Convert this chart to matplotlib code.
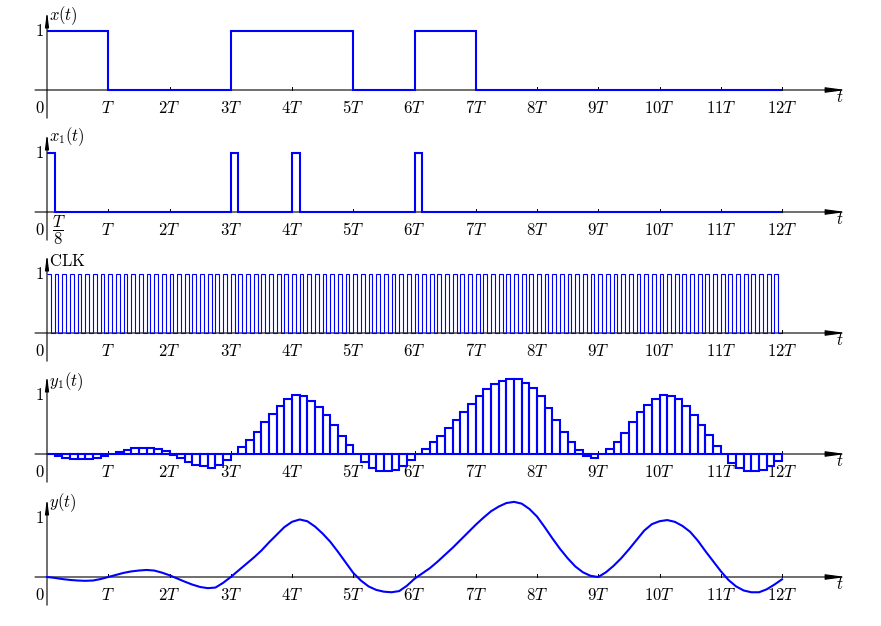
import matplotlib
matplotlib.use("Agg")
import matplotlib.pyplot as plt
import numpy as np

plt.rcParams['mathtext.fontset'] = 'cm'
plt.rcParams['font.family'] = ['DejaVu Serif']

# ---------------- data ----------------
# x(t): piecewise constant, edges in units of T
x_edges = [0, 1, 3, 5, 6, 7, 12]
x_levels = [1, 0, 1, 0, 1, 0]

# x1(t): pulses of width T/8
x1_edges = [0, 0.125, 3, 3.125, 4, 4.125, 6, 6.125, 12]
x1_levels = [1, 0, 1, 0, 1, 0, 1, 0]

# CLK: period T/8, 96 cycles, levels per half period
clk_half_period = 1 / 16
clk_levels = [1, 0] * 96

# y1(t): sample-and-hold values, one per T/8
y1_step = 1 / 8
y1_values = [
    0.0, -0.04, -0.06, -0.09, -0.09, -0.09, -0.07, -0.03,
    0.0, 0.04, 0.07, 0.11, 0.11, 0.11, 0.09, 0.05,
    -0.01, -0.07, -0.14, -0.19, -0.21, -0.23, -0.19, -0.11,
    0.0, 0.12, 0.23, 0.38, 0.55, 0.68, 0.82, 0.93,
    1.0, 0.98, 0.91, 0.80, 0.67, 0.49, 0.31, 0.15,
    0.0, -0.13, -0.23, -0.29, -0.29, -0.27, -0.2, -0.11,
    0.0, 0.08, 0.2, 0.3, 0.44, 0.58, 0.72, 0.85,
    0.99, 1.1, 1.19, 1.25, 1.28, 1.28, 1.21, 1.12,
    0.99, 0.78, 0.58, 0.38, 0.2, 0.06, -0.03, -0.06,
    0.0, 0.09, 0.2, 0.36, 0.55, 0.71, 0.84, 0.93,
    1.0, 0.98, 0.93, 0.82, 0.66, 0.49, 0.32, 0.14,
    0.0, -0.16, -0.24, -0.29, -0.29, -0.28, -0.2, -0.12,
]

# y(t): smooth output, read every T/8
y_step = 1 / 8
y_values = [
    0.0, -0.015, -0.035, -0.05, -0.06, -0.065, -0.06, -0.035,
    0.0, 0.035, 0.07, 0.095, 0.11, 0.12, 0.11, 0.075,
    0.03, -0.025, -0.08, -0.13, -0.17, -0.19, -0.18, -0.1,
    0.0, 0.11, 0.22, 0.33, 0.45, 0.59, 0.72, 0.85,
    0.94, 0.98, 0.95, 0.86, 0.74, 0.6, 0.43, 0.25,
    0.07, -0.06, -0.16, -0.22, -0.25, -0.26, -0.24, -0.15,
    -0.03, 0.06, 0.15, 0.26, 0.38, 0.5, 0.63, 0.76,
    0.89, 1.01, 1.12, 1.2, 1.26, 1.28, 1.25, 1.16,
    1.03, 0.85, 0.66, 0.48, 0.32, 0.18, 0.08, 0.02,
    0.0, 0.08, 0.19, 0.32, 0.47, 0.63, 0.79, 0.9,
    0.95, 0.97, 0.94, 0.87, 0.77, 0.62, 0.44, 0.27,
    0.1, -0.05, -0.16, -0.23, -0.26, -0.26, -0.21, -0.13,
    -0.04,
]

tick_labels = ['$T$', '$2T$', '$3T$', '$4T$', '$5T$', '$6T$',
               '$7T$', '$8T$', '$9T$', '$10T$', '$11T$', '$12T$']
panel_labels = ['$x(t)$', '$x_1(t)$', r'$\mathrm{CLK}$', '$y_1(t)$', '$y(t)$']

# ---------------- layout ----------------
W, H = 881, 626
X0, PXT = 47, 61.25      # pixel of t=0, pixels per T
PXU = 58.7               # pixels per unit amplitude
zeros_px = [90, 212, 333, 454, 577]
label_y = [1.26, 1.28, 1.21, 1.24, 1.26]
BLUE = '#0000ff'
FS = 12

fig = plt.figure(figsize=(W / 100, H / 100), dpi=100)

axes = []
for i, Z in enumerate(zeros_px):
    top, bot = Z - 86, Z + 35
    ax = fig.add_axes([0, 1 - bot / H, 1, (bot - top) / H])
    ax.set_xlim(-X0 / PXT, (W - X0) / PXT)
    ax.set_ylim(-35 / PXU, 86 / PXU)
    ax.axis('off')
    axes.append(ax)

    # horizontal axis with arrow
    ax.annotate('', xy=((846 - X0) / PXT, 0), xytext=((35 - X0) / PXT, 0),
                arrowprops=dict(arrowstyle='-|>,head_length=1.5,head_width=0.2',
                                color='black', lw=0.8, mutation_scale=8,
                                shrinkA=0, shrinkB=0), zorder=1)
    # vertical axis with arrow
    ax.annotate('', xy=(0, 1.34), xytext=(0, -0.48),
                arrowprops=dict(arrowstyle='-|>,head_length=1.1,head_width=0.14',
                                color='black', lw=0.8, mutation_scale=8,
                                shrinkA=0, shrinkB=0), zorder=1)
    # ticks
    for k in range(1, 13):
        ax.plot([k, k], [0, 0.055], color='black', lw=0.7, zorder=1)
    # tick labels
    for k, lab in enumerate(tick_labels, start=1):
        ax.text(k, -0.31, lab, ha='center', va='center', fontsize=FS)
    ax.text(-0.12, -0.31, '$0$', ha='center', va='center', fontsize=FS)
    ax.text(-0.12, 1.0, '$1$', ha='center', va='center', fontsize=FS)
    ax.text(0.025, label_y[i], panel_labels[i], ha='left', va='center', fontsize=FS)
    ax.text((840 - X0) / PXT, -0.12, '$t$', ha='center', va='center', fontsize=FS)

# panel 1: x(t)
axes[0].stairs(x_levels, x_edges, baseline=None, color=BLUE, lw=1.5, zorder=3)

# panel 2: x1(t)
axes[1].stairs(x1_levels, x1_edges, baseline=None, color=BLUE, lw=1.5, zorder=3)
axes[1].text(0.2, -0.32, r'$\dfrac{T}{8}$', ha='center', va='center', fontsize=FS)

# panel 3: CLK
clk_edges = np.arange(len(clk_levels) + 1) * clk_half_period
axes[2].stairs(clk_levels, clk_edges, baseline=None, color=BLUE, lw=0.8, zorder=3)

# panel 4: y1(t) sample-and-hold bars
y1_t = np.arange(len(y1_values)) * y1_step
axes[3].bar(y1_t, y1_values, width=y1_step, align='edge', fill=False,
            edgecolor=BLUE, lw=1.5, zorder=3)

# panel 5: y(t)
y_t = np.arange(len(y_values)) * y_step
axes[4].plot(y_t, y_values, color=BLUE, lw=1.5, zorder=3)

fig.savefig('out.png', dpi=100)
